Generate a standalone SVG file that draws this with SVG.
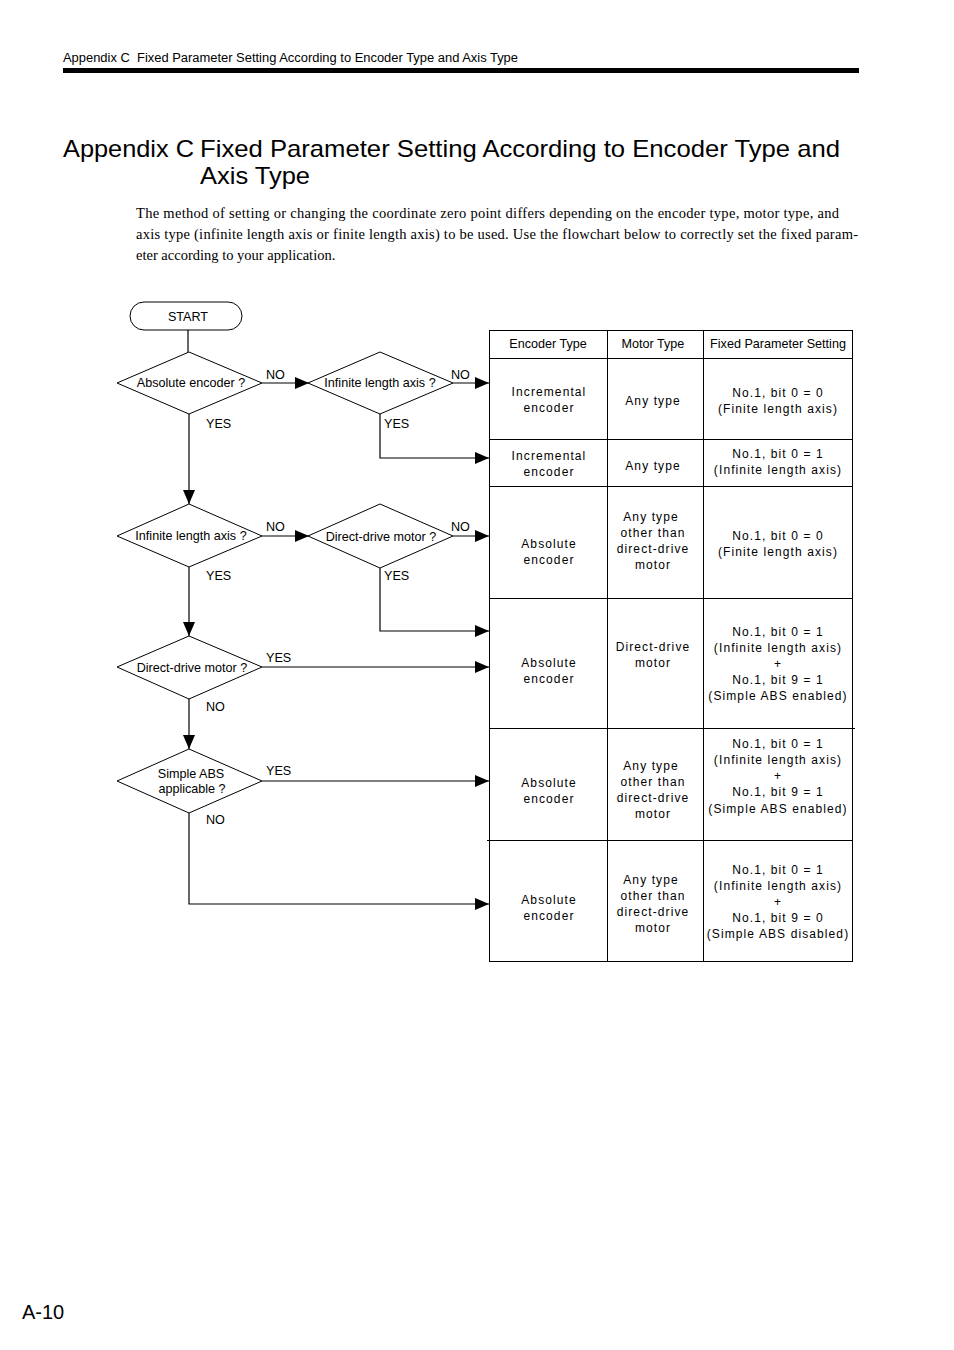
<svg xmlns="http://www.w3.org/2000/svg" width="954" height="1350" viewBox="0 0 954 1350">
<defs>
<marker id="ah" markerWidth="14" markerHeight="12" refX="14" refY="6" orient="auto" markerUnits="userSpaceOnUse">
<path d="M0,0 L14,6 L0,12 Z" fill="#000"/>
</marker>
<style>
.t{font-family:"Liberation Sans",Arial,sans-serif;fill:#000}
.f{font-size:12.6px}
.c{font-size:12px;letter-spacing:1.1px;text-anchor:middle}
.m{text-anchor:middle}
.s{fill:#fff;stroke:#000;stroke-width:1}
.l{fill:none;stroke:#000;stroke-width:1.2}
.g{stroke:#000;stroke-width:1;fill:none}
</style>
</defs>
<rect width="954" height="1350" fill="#fff"/>
<text class="t" x="63" y="62" font-size="12" textLength="455" lengthAdjust="spacingAndGlyphs" xml:space="preserve">Appendix C  Fixed Parameter Setting According to Encoder Type and Axis Type</text>
<rect x="63" y="68" width="796" height="5" fill="#000"/>
<text class="t" x="63" y="157" font-size="24" textLength="131" lengthAdjust="spacingAndGlyphs">Appendix C</text>
<text class="t" x="200" y="157" font-size="24" textLength="640" lengthAdjust="spacingAndGlyphs">Fixed Parameter Setting According to Encoder Type and</text>
<text class="t" x="200" y="184" font-size="24" textLength="110" lengthAdjust="spacingAndGlyphs">Axis Type</text>
<g font-family="'Liberation Serif','Times New Roman',serif" font-size="14.5" fill="#000">
<text x="136" y="218" textLength="703" lengthAdjust="spacing">The method of setting or changing the coordinate zero point differs depending on the encoder type, motor type, and</text>
<text x="136" y="239" textLength="722" lengthAdjust="spacing">axis type (infinite length axis or finite length axis) to be used. Use the flowchart below to correctly set the fixed param-</text>
<text x="136" y="260">eter according to your application.</text>
</g>

<g id="connectors">
<line class="l" x1="188" y1="330" x2="188" y2="352"/>
<line class="l" x1="262" y1="383" x2="309" y2="383" marker-end="url(#ah)"/>
<line class="l" x1="453" y1="383" x2="489" y2="383" marker-end="url(#ah)"/>
<polyline class="l" points="380,414 380,458 489,458" marker-end="url(#ah)"/>
<line class="l" x1="189" y1="414" x2="189" y2="504" marker-end="url(#ah)"/>
<line class="l" x1="262" y1="536" x2="309" y2="536" marker-end="url(#ah)"/>
<line class="l" x1="453" y1="536" x2="489" y2="536" marker-end="url(#ah)"/>
<polyline class="l" points="380,568 380,631 489,631" marker-end="url(#ah)"/>
<line class="l" x1="189" y1="567" x2="189" y2="636" marker-end="url(#ah)"/>
<line class="l" x1="262" y1="667" x2="489" y2="667" marker-end="url(#ah)"/>
<line class="l" x1="189" y1="699" x2="189" y2="749" marker-end="url(#ah)"/>
<line class="l" x1="262" y1="781" x2="489" y2="781" marker-end="url(#ah)"/>
<polyline class="l" points="189,813 189,904 489,904" marker-end="url(#ah)"/>
<g class="t f">
<text x="266" y="379">NO</text>
<text x="451" y="379">NO</text>
<text x="206" y="428">YES</text>
<text x="384" y="428">YES</text>
<text x="266" y="531">NO</text>
<text x="451" y="531">NO</text>
<text x="206" y="580">YES</text>
<text x="384" y="580">YES</text>
<text x="266" y="662">YES</text>
<text x="206" y="711">NO</text>
<text x="266" y="775">YES</text>
<text x="206" y="824">NO</text>
</g>
</g>

<g id="start">
<rect class="s" x="130" y="302" width="112" height="28" rx="14"/>
<text class="t f m" x="188" y="321">START</text>
</g>
<g id="d1">
<polygon class="s" points="189,352 262,383 189,414 117,383"/>
<text class="t f m" x="191" y="387">Absolute encoder ?</text>
</g>
<g id="d2">
<polygon class="s" points="380,352 453,383 380,414 308,383"/>
<text class="t f m" x="380" y="387">Infinite length axis ?</text>
</g>
<g id="d3">
<polygon class="s" points="189,504 262,536 189,567 117,536"/>
<text class="t f m" x="191" y="540">Infinite length axis ?</text>
</g>
<g id="d4">
<polygon class="s" points="380,504 453,536 380,568 308,536"/>
<text class="t f m" x="381" y="541">Direct-drive motor ?</text>
</g>
<g id="d5">
<polygon class="s" points="189,636 262,667 189,699 117,667"/>
<text class="t f m" x="192" y="672">Direct-drive motor ?</text>
</g>
<g id="d6">
<polygon class="s" points="189,749 262,781 189,813 117,781"/>
<text class="t f m" x="191" y="778">Simple ABS</text>
<text class="t f m" x="192" y="793">applicable ?</text>
</g>

<g id="table">
<rect class="g" x="489.5" y="330.5" width="363" height="631"/>
<line class="g" x1="607.5" y1="330" x2="607.5" y2="962"/>
<line class="g" x1="703.5" y1="330" x2="703.5" y2="962"/>
<line class="g" x1="489" y1="358.5" x2="853" y2="358.5"/>
<line class="g" x1="489" y1="439.5" x2="853" y2="439.5"/>
<line class="g" x1="489" y1="486.5" x2="853" y2="486.5"/>
<line class="g" x1="489" y1="598.5" x2="853" y2="598.5"/>
<line class="g" x1="489" y1="728.5" x2="855" y2="728.5"/>
<line class="g" x1="487" y1="840.5" x2="853" y2="840.5"/>
<g class="t f m">
<text x="548" y="348">Encoder Type</text>
<text x="653" y="348">Motor Type</text>
<text x="778" y="348">Fixed Parameter Setting</text>
</g>
<g class="t c">
<text x="549" y="396">Incremental</text>
<text x="549" y="412">encoder</text>
<text x="653" y="405">Any type</text>
<text x="778" y="397">No.1, bit 0 = 0</text>
<text x="778" y="413">(Finite length axis)</text>

<text x="549" y="460">Incremental</text>
<text x="549" y="476">encoder</text>
<text x="653" y="470">Any type</text>
<text x="778" y="458">No.1, bit 0 = 1</text>
<text x="778" y="474">(Infinite length axis)</text>

<text x="549" y="548">Absolute</text>
<text x="549" y="564">encoder</text>
<text x="651" y="521">Any type</text>
<text x="653" y="537">other than</text>
<text x="653" y="553">direct-drive</text>
<text x="653" y="569">motor</text>
<text x="778" y="540">No.1, bit 0 = 0</text>
<text x="778" y="556">(Finite length axis)</text>

<text x="549" y="667">Absolute</text>
<text x="549" y="683">encoder</text>
<text x="653" y="651">Direct-drive</text>
<text x="653" y="667">motor</text>
<text x="778" y="636">No.1, bit 0 = 1</text>
<text x="778" y="652">(Infinite length axis)</text>
<text x="778" y="668">+</text>
<text x="778" y="684">No.1, bit 9 = 1</text>
<text x="778" y="700">(Simple ABS enabled)</text>

<text x="549" y="787">Absolute</text>
<text x="549" y="803">encoder</text>
<text x="651" y="770">Any type</text>
<text x="653" y="786">other than</text>
<text x="653" y="802">direct-drive</text>
<text x="653" y="818">motor</text>
<text x="778" y="748">No.1, bit 0 = 1</text>
<text x="778" y="764">(Infinite length axis)</text>
<text x="778" y="780">+</text>
<text x="778" y="796">No.1, bit 9 = 1</text>
<text x="778" y="813">(Simple ABS enabled)</text>

<text x="549" y="904">Absolute</text>
<text x="549" y="920">encoder</text>
<text x="651" y="884">Any type</text>
<text x="653" y="900">other than</text>
<text x="653" y="916">direct-drive</text>
<text x="653" y="932">motor</text>
<text x="778" y="874">No.1, bit 0 = 1</text>
<text x="778" y="890">(Infinite length axis)</text>
<text x="778" y="906">+</text>
<text x="778" y="922">No.1, bit 9 = 0</text>
<text x="778" y="938">(Simple ABS disabled)</text>
</g>
</g>
<text class="t" x="22" y="1319" font-size="20">A-10</text>
</svg>
